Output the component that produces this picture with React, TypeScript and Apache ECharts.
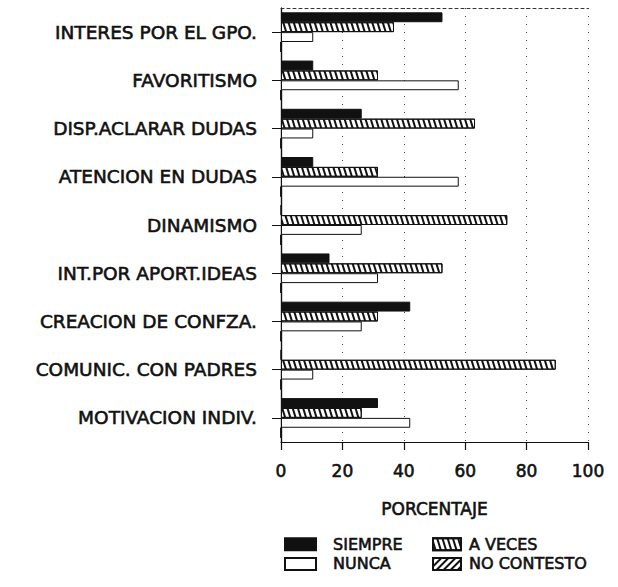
import React, { useEffect, useRef } from "react";
import * as echarts from "echarts";

const categories = [
  "INTERES POR EL GPO.",
  "FAVORITISMO",
  "DISP.ACLARAR DUDAS",
  "ATENCION EN DUDAS",
  "DINAMISMO",
  "INT.POR APORT.IDEAS",
  "CREACION DE CONFZA.",
  "COMUNIC. CON PADRES",
  "MOTIVACION INDIV.",
];
const siempre = [52.6, 10.5, 26.3, 10.5, 0, 15.8, 42.1, 0, 31.6];
const aVeces = [36.8, 31.6, 63.2, 31.6, 73.7, 52.6, 31.6, 89.5, 26.3];
const nunca = [10.5, 57.9, 10.5, 57.9, 26.3, 31.6, 26.3, 10.5, 42.1];
const noContesto = [0, 0, 0, 0, 0, 0, 0, 0, 0];
const xTicks = { min: 0, max: 100, interval: 20 };
const FONT = "DejaVu Sans";

export default function App() {
  const ref = useRef<HTMLDivElement>(null);
  useEffect(() => {
    const chart = echarts.init(ref.current!, null, { renderer: "svg" });
    const barBase = { type: "bar" as const, barGap: "0%", barCategoryGap: "18%" };
    const txt = {
      fontFamily: FONT,
      color: "#111",
      fontWeight: "normal" as const,
      textBorderColor: "#111",
      textBorderWidth: 0.6,
    };
    chart.setOption({
      animation: false,
      textStyle: { fontFamily: FONT, color: "#111" },
      grid: { left: 281, right: 30, top: 8, bottom: 145 },
      xAxis: [
        {
          type: "value",
          ...xTicks,
          position: "bottom",
          axisLine: { show: true, lineStyle: { color: "#111", width: 1.2 } },
          axisTick: { show: true, length: 8, lineStyle: { color: "#111", width: 1.2 } },
          axisLabel: { ...txt, fontSize: 17, margin: 20 },
          splitLine: { show: true, lineStyle: { color: "#444", type: [1, 7], width: 1 } },
          name: "PORCENTAJE",
          nameLocation: "middle",
          nameGap: 58,
          nameTextStyle: { ...txt, fontSize: 17 },
        },
        {
          type: "value",
          ...xTicks,
          position: "top",
          axisLine: { show: true, lineStyle: { color: "#333", type: [3, 3], width: 1 } },
          axisTick: { show: false },
          axisLabel: { show: false },
          splitLine: { show: false },
        },
      ],
      yAxis: [
        {
          type: "category",
          data: categories,
          inverse: true,
          axisLine: { show: true, lineStyle: { color: "#111", width: 1.2 } },
          axisTick: { show: true, alignWithLabel: true, length: 9, lineStyle: { color: "#111" } },
          axisLabel: { ...txt, fontSize: 18.5, margin: 24 },
        },
        {
          type: "category",
          data: categories,
          inverse: true,
          position: "right",
          axisLine: { show: true, lineStyle: { color: "#111", width: 1.2 } },
          axisTick: { show: false },
          axisLabel: { show: false },
        },
      ],
      legend: [
        {
          left: 279,
          top: 531,
          orient: "vertical",
          icon: "rect",
          itemWidth: 31,
          itemHeight: 12,
          itemGap: 3,
          data: ["SIEMPRE", "NUNCA"],
          textStyle: { ...txt, fontSize: 16, padding: [0, 0, 0, 12] },
        },
        {
          left: 427,
          top: 531,
          orient: "vertical",
          icon: "rect",
          itemWidth: 28,
          itemHeight: 12,
          itemGap: 3,
          data: ["A VECES", "NO CONTESTO"],
          textStyle: { ...txt, fontSize: 16, padding: [0, 0, 0, 3] },
        },
      ],
      series: [
        {
          ...barBase,
          name: "SIEMPRE",
          data: siempre,
          itemStyle: { color: "#111", borderColor: "#111", borderWidth: 1 },
        },
        {
          ...barBase,
          name: "A VECES",
          data: aVeces,
          itemStyle: {
            color: "#fff",
            borderColor: "#111",
            borderWidth: 1,
            decal: {
              symbol: "rect",
              symbolSize: 1,
              dashArrayX: [1, 0],
              dashArrayY: [1.3, 3],
              rotation: Math.PI / 2 - 0.3,
              color: "#111",
              backgroundColor: "#fff",
            },
          },
        },
        {
          ...barBase,
          name: "NUNCA",
          data: nunca,
          itemStyle: { color: "#fff", borderColor: "#111", borderWidth: 1 },
        },
        {
          ...barBase,
          name: "NO CONTESTO",
          data: noContesto,
          itemStyle: {
            color: "#fff",
            borderColor: "#111",
            borderWidth: 1,
            decal: {
              symbol: "rect",
              symbolSize: 1,
              dashArrayX: [1, 0],
              dashArrayY: [1.5, 2.5],
              rotation: -Math.PI / 4,
              color: "#111",
              backgroundColor: "#fff",
            },
          },
        },
      ],
    });
    return () => chart.dispose();
  }, []);
  return (
    <div
      ref={ref}
      style={{ position: "fixed", left: 0, top: 0, width: 618, height: 587, background: "#fff" }}
    />
  );
}
